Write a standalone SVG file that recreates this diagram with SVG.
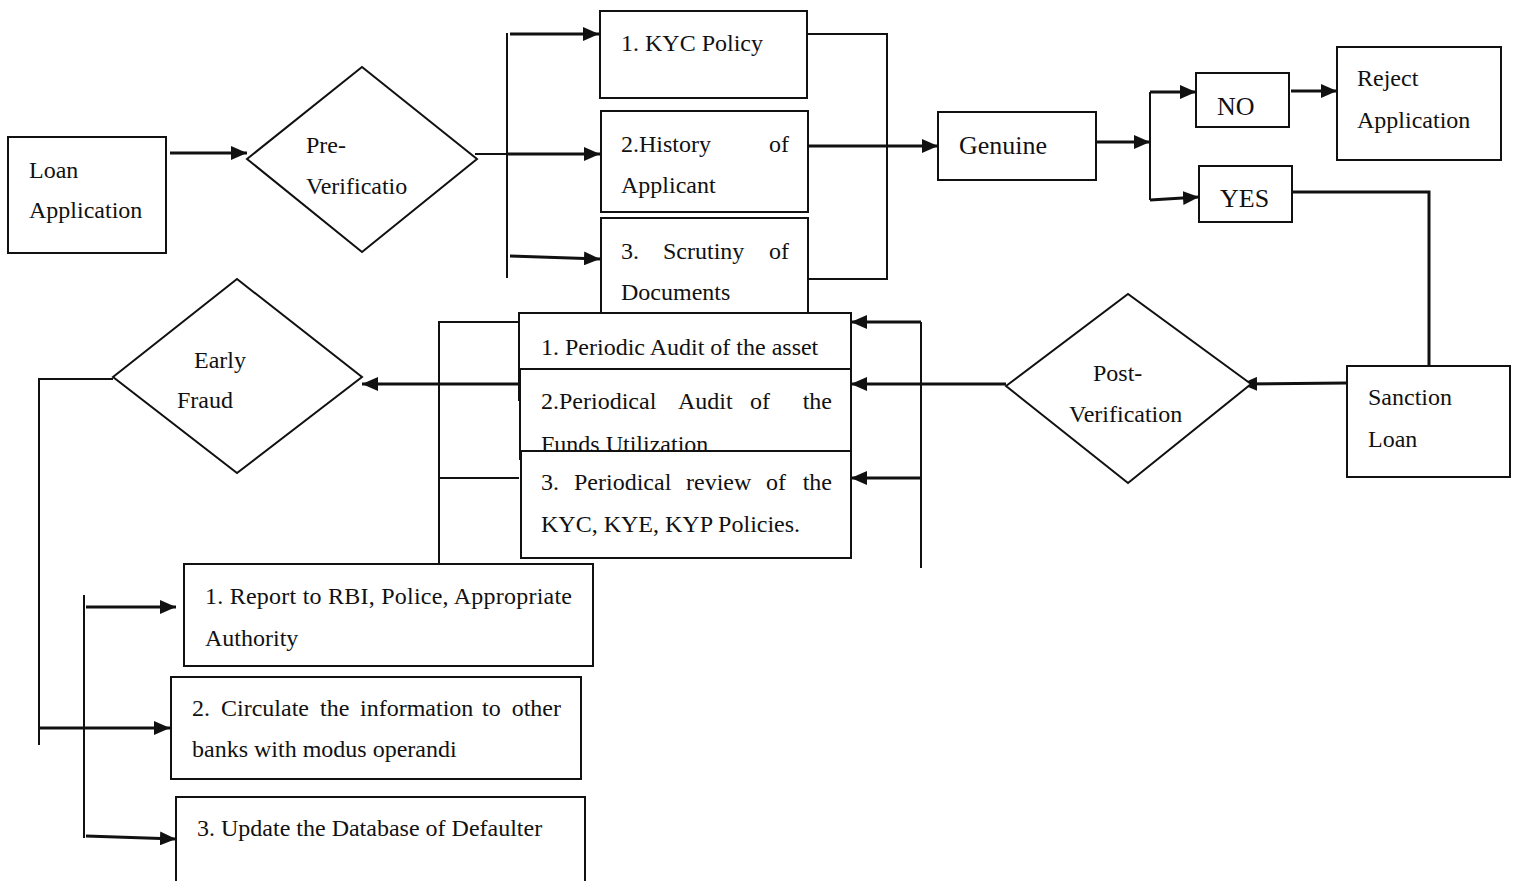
<svg xmlns="http://www.w3.org/2000/svg" width="1514" height="881" viewBox="0 0 1514 881">
<style>
.box{fill:#fff;stroke:#111;stroke-width:2}
.dia{fill:#fff;stroke:#111;stroke-width:2}
.ln{fill:none;stroke:#111;stroke-width:2}
.ar{fill:none;stroke:#111;stroke-width:3;marker-end:url(#ah)}
text{font-family:"Liberation Serif","Times New Roman",serif;font-size:24px;fill:#111}
.big{font-size:26px}
</style>
<defs>
<marker id="ah" viewBox="0 0 16 14" refX="16" refY="7" markerWidth="16" markerHeight="14" markerUnits="userSpaceOnUse" orient="auto">
<path d="M0,0 L16,7 L0,14 Z" fill="#111"/>
</marker>
</defs>
<rect width="1514" height="881" fill="#fff"/>

<g id="connectors">
<line class="ar" x1="170" y1="153" x2="247" y2="153"/>
<line class="ln" x1="475" y1="154" x2="507" y2="154"/>
<line class="ln" x1="507" y1="33" x2="507" y2="278"/>
<line class="ar" x1="510" y1="34" x2="599" y2="34"/>
<line class="ar" x1="507" y1="154" x2="600" y2="154"/>
<line class="ar" x1="510" y1="256" x2="600" y2="259"/>
<polyline class="ln" points="807,34 887,34 887,279 808,279"/>
<line class="ar" x1="808" y1="146" x2="938" y2="146"/>
<line class="ar" x1="1096" y1="142" x2="1150" y2="142"/>
<line class="ln" x1="1150" y1="92" x2="1150" y2="200"/>
<line class="ar" x1="1150" y1="92" x2="1196" y2="92"/>
<line class="ar" x1="1150" y1="200" x2="1199" y2="197"/>
<line class="ar" x1="1291" y1="91" x2="1337" y2="91"/>
<polyline class="ln" points="1292,192 1429,192 1429,366" style="stroke-width:3"/>
<line class="ar" x1="1347" y1="383" x2="1241" y2="384"/>
<line class="ar" x1="1006" y1="384" x2="851" y2="384"/>
<line class="ln" x1="921" y1="322" x2="921" y2="568"/>
<line class="ar" x1="921" y1="322" x2="851" y2="322"/>
<line class="ar" x1="921" y1="478" x2="851" y2="478"/>
<line class="ln" x1="439" y1="321" x2="439" y2="564"/>
<line class="ln" x1="439" y1="322" x2="518" y2="322"/>
<line class="ln" x1="439" y1="478" x2="519" y2="478"/>
<line class="ar" x1="519" y1="384" x2="362" y2="384"/>
<polyline class="ln" points="113,379 39,379 39,745"/>
<line class="ar" x1="40" y1="728" x2="170" y2="728"/>
<line class="ln" x1="84" y1="595" x2="84" y2="838"/>
<line class="ar" x1="86" y1="607" x2="176" y2="607"/>
<line class="ar" x1="86" y1="836" x2="176" y2="839"/>
</g>

<g id="loan-application">
<rect class="box" x="8" y="137" width="158" height="116"/>
<text x="29" y="178">Loan</text>
<text x="29" y="218">Application</text>
</g>

<g id="pre-verification">
<polygon class="dia" points="247,159 362,67 477,159 362,252"/>
<text x="306" y="153">Pre-</text>
<text x="306" y="194">Verificatio</text>
</g>

<g id="kyc-policy">
<rect class="box" x="600" y="11" width="207" height="87"/>
<text x="621" y="51">1. KYC Policy</text>
</g>

<g id="history">
<rect class="box" x="601" y="111" width="207" height="101"/>
<text x="621" y="152">2.History</text>
<text x="789" y="152" text-anchor="end">of</text>
<text x="621" y="193">Applicant</text>
</g>

<g id="scrutiny">
<rect class="box" x="601" y="218" width="207" height="110"/>
<text x="621" y="259">3.</text>
<text x="663" y="259">Scrutiny</text>
<text x="789" y="259" text-anchor="end">of</text>
<text x="621" y="300">Documents</text>
</g>

<g id="genuine">
<rect class="box" x="938" y="112" width="158" height="68"/>
<text class="big" x="959" y="154">Genuine</text>
</g>

<g id="no">
<rect class="box" x="1196" y="73" width="93" height="54"/>
<text class="big" x="1217" y="115">NO</text>
</g>

<g id="reject-application">
<rect class="box" x="1337" y="47" width="164" height="113"/>
<text x="1357" y="86">Reject</text>
<text x="1357" y="128">Application</text>
</g>

<g id="yes">
<rect class="box" x="1199" y="166" width="93" height="56"/>
<text class="big" x="1220" y="207">YES</text>
</g>

<g id="sanction-loan">
<rect class="box" x="1347" y="366" width="163" height="111"/>
<text x="1368" y="405">Sanction</text>
<text x="1368" y="447">Loan</text>
</g>

<g id="post-verification">
<polygon class="dia" points="1006,386 1128,294 1251,384 1128,483"/>
<text x="1093" y="381">Post-</text>
<text x="1069" y="422">Verification</text>
</g>

<g id="periodic-audit-asset">
<rect class="box" x="519" y="313" width="332" height="87"/>
<text x="541" y="355">1. Periodic Audit of the asset</text>
</g>

<g id="periodic-audit-funds">
<rect class="box" x="520" y="369" width="331" height="90"/>
<text x="541" y="409">2.Periodical</text>
<text x="678" y="409">Audit</text>
<text x="750" y="409">of</text>
<text x="832" y="409" text-anchor="end">the</text>
<text x="541" y="452">Funds Utilization</text>
</g>

<g id="periodic-review-kyc">
<rect class="box" x="521" y="451" width="330" height="107"/>
<text x="541" y="490">3.</text>
<text x="574" y="490">Periodical</text>
<text x="686" y="490">review</text>
<text x="766" y="490">of</text>
<text x="832" y="490" text-anchor="end">the</text>
<text x="541" y="532">KYC, KYE, KYP Policies.</text>
</g>

<g id="early-fraud">
<polygon class="dia" points="113,377 237,279 362,377 237,473"/>
<text x="194" y="368">Early</text>
<text x="177" y="408">Fraud</text>
</g>

<g id="report">
<rect class="box" x="184" y="564" width="409" height="102"/>
<text x="205" y="604" textLength="367" lengthAdjust="spacing">1. Report to RBI, Police, Appropriate</text>
<text x="205" y="646">Authority</text>
</g>

<g id="circulate">
<rect class="box" x="171" y="677" width="410" height="102"/>
<text x="192" y="716">2.</text>
<text x="221" y="716">Circulate</text>
<text x="320" y="716">the</text>
<text x="360" y="716">information</text>
<text x="482" y="716">to</text>
<text x="561" y="716" text-anchor="end">other</text>
<text x="192" y="757">banks with modus operandi</text>
</g>

<g id="update-database">
<rect class="box" x="176" y="797" width="409" height="100"/>
<text x="197" y="836">3. Update the Database of Defaulter</text>
</g>
</svg>
